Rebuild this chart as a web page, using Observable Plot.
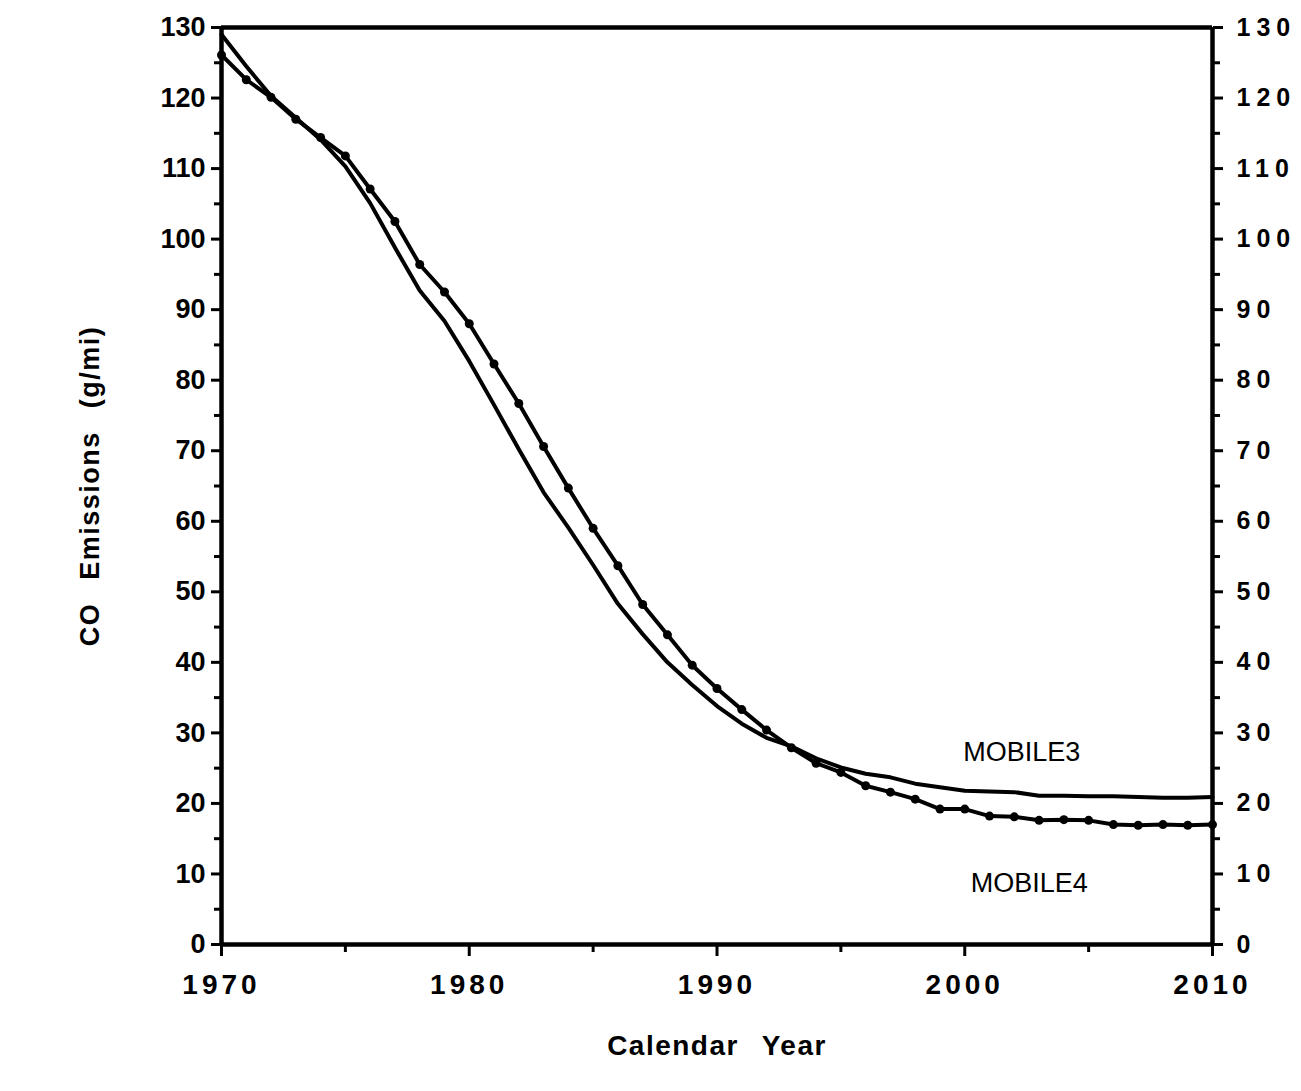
<!DOCTYPE html>
<html>
<head>
<meta charset="utf-8">
<script src="https://cdn.jsdelivr.net/npm/d3@7"></script>
<script src="https://cdn.jsdelivr.net/npm/@observablehq/plot@0.6"></script>
<style>
  html, body { margin: 0; padding: 0; background: #fff; }
  #chart svg { display: block; }
</style>
</head>
<body>
<div id="chart"></div>
<script>
const years = [1970,1971,1972,1973,1974,1975,1976,1977,1978,1979,
               1980,1981,1982,1983,1984,1985,1986,1987,1988,1989,
               1990,1991,1992,1993,1994,1995,1996,1997,1998,1999,
               2000,2001,2002,2003,2004,2005,2006,2007,2008,2009,2010];
const mobile3 = [129.0,124.5,120.3,117.2,114.1,110.3,105.1,98.8,92.7,88.4,
                 82.7,76.5,70.2,64.1,59.1,53.8,48.3,44.0,40.0,36.8,
                 33.8,31.3,29.3,28.1,26.4,25.1,24.2,23.7,22.8,22.3,
                 21.8,21.7,21.6,21.1,21.1,21.0,21.0,20.9,20.8,20.8,20.9];
const mobile4 = [126.1,122.6,120.1,117.0,114.4,111.8,107.1,102.5,96.4,92.5,
                 88.0,82.3,76.7,70.6,64.7,59.0,53.7,48.2,43.9,39.6,
                 36.3,33.3,30.4,27.9,25.7,24.4,22.5,21.6,20.6,19.2,
                 19.2,18.2,18.1,17.6,17.7,17.6,17.0,16.9,17.0,16.9,17.0];
const yTicks = [0,10,20,30,40,50,60,70,80,90,100,110,120,130];
const yMinorTicks = [5,15,25,35,45,55,65,75,85,95,105,115,125];
const xTicks = [1970,1980,1990,2000,2010];
const xMinorTicks = [1975,1985,1995,2005];
const seriesLabels = [
  {name: "MOBILE3", year: 2002.3, value: 27.2},
  {name: "MOBILE4", year: 2002.6, value: 8.6}
];
const xTitle = "Calendar Year";
const yTitle = "CO Emissions (g/mi)";

const rows = years.map((y, i) => ({year: y, m3: mobile3[i], m4: mobile4[i]}));

const font = "'Liberation Sans', Arial, Helvetica, sans-serif";

const chart = Plot.plot({
  width: 1301,
  height: 1091,
  marginLeft: 221,
  marginRight: 89,
  marginTop: 27,
  marginBottom: 147,
  style: {fontFamily: font, background: "#fff", color: "#000"},
  x: {domain: [1970, 2010]},
  y: {domain: [0, 130]},
  marks: [
    // frame
    Plot.ruleX([1970, 2010], {stroke: "#000", strokeWidth: 4.5}),
    Plot.ruleY([0, 130], {stroke: "#000", strokeWidth: 4.5}),
    // left axis
    Plot.axisY({anchor: "left", ticks: yTicks, tickSize: 10, strokeWidth: 3, tickPadding: 6,
      fontSize: 27, fontWeight: "bold", label: yTitle, labelAnchor: "center", labelArrow: "none",
      labelOffset: 142}),
    Plot.axisY({anchor: "left", ticks: yMinorTicks, tickSize: 7, strokeWidth: 3, text: null, label: null}),
    // right axis
    Plot.axisY({anchor: "right", ticks: yTicks, tickSize: 10, strokeWidth: 3, tickPadding: 14,
      fontSize: 25, fontWeight: "bold", label: null}),
    Plot.axisY({anchor: "right", ticks: yMinorTicks, tickSize: 7, strokeWidth: 3, text: null, label: null}),
    // bottom axis
    Plot.axisX({anchor: "bottom", ticks: xTicks, tickFormat: d => String(d), tickSize: 12, strokeWidth: 3,
      tickPadding: 18, fontSize: 28, fontWeight: "bold", label: xTitle, labelAnchor: "center",
      labelArrow: "none", labelOffset: 110}),
    Plot.axisX({anchor: "bottom", ticks: xMinorTicks, tickSize: 8, strokeWidth: 3, text: null, label: null}),
    // series
    Plot.line(rows, {x: "year", y: "m3", stroke: "#000", strokeWidth: 4}),
    Plot.line(rows, {x: "year", y: "m4", stroke: "#000", strokeWidth: 4}),
    Plot.dot(rows, {x: "year", y: "m4", r: 4.5, fill: "#000", stroke: "none"}),
    Plot.text(seriesLabels, {x: "year", y: "value", text: "name", fontSize: 27, fill: "#000"})
  ]
});

const svg = d3.select(chart);
svg.selectAll('g[aria-label="y-axis tick label"]').each(function() {
  const g = d3.select(this);
  if (g.attr("text-anchor") === "start") g.style("letter-spacing", "6px");
});
svg.selectAll('g[aria-label="x-axis tick label"]').style("letter-spacing", "4px");
svg.selectAll('g[aria-label="x-axis label"] text, g[aria-label="y-axis label"] text')
  .style("font-weight", "bold").style("font-size", "28px").style("letter-spacing", "1.5px").style("word-spacing", "14px");
svg.selectAll('g[aria-label="y-axis label"] text').style("font-size", "27px");

document.getElementById("chart").appendChild(chart);
</script>
</body>
</html>
